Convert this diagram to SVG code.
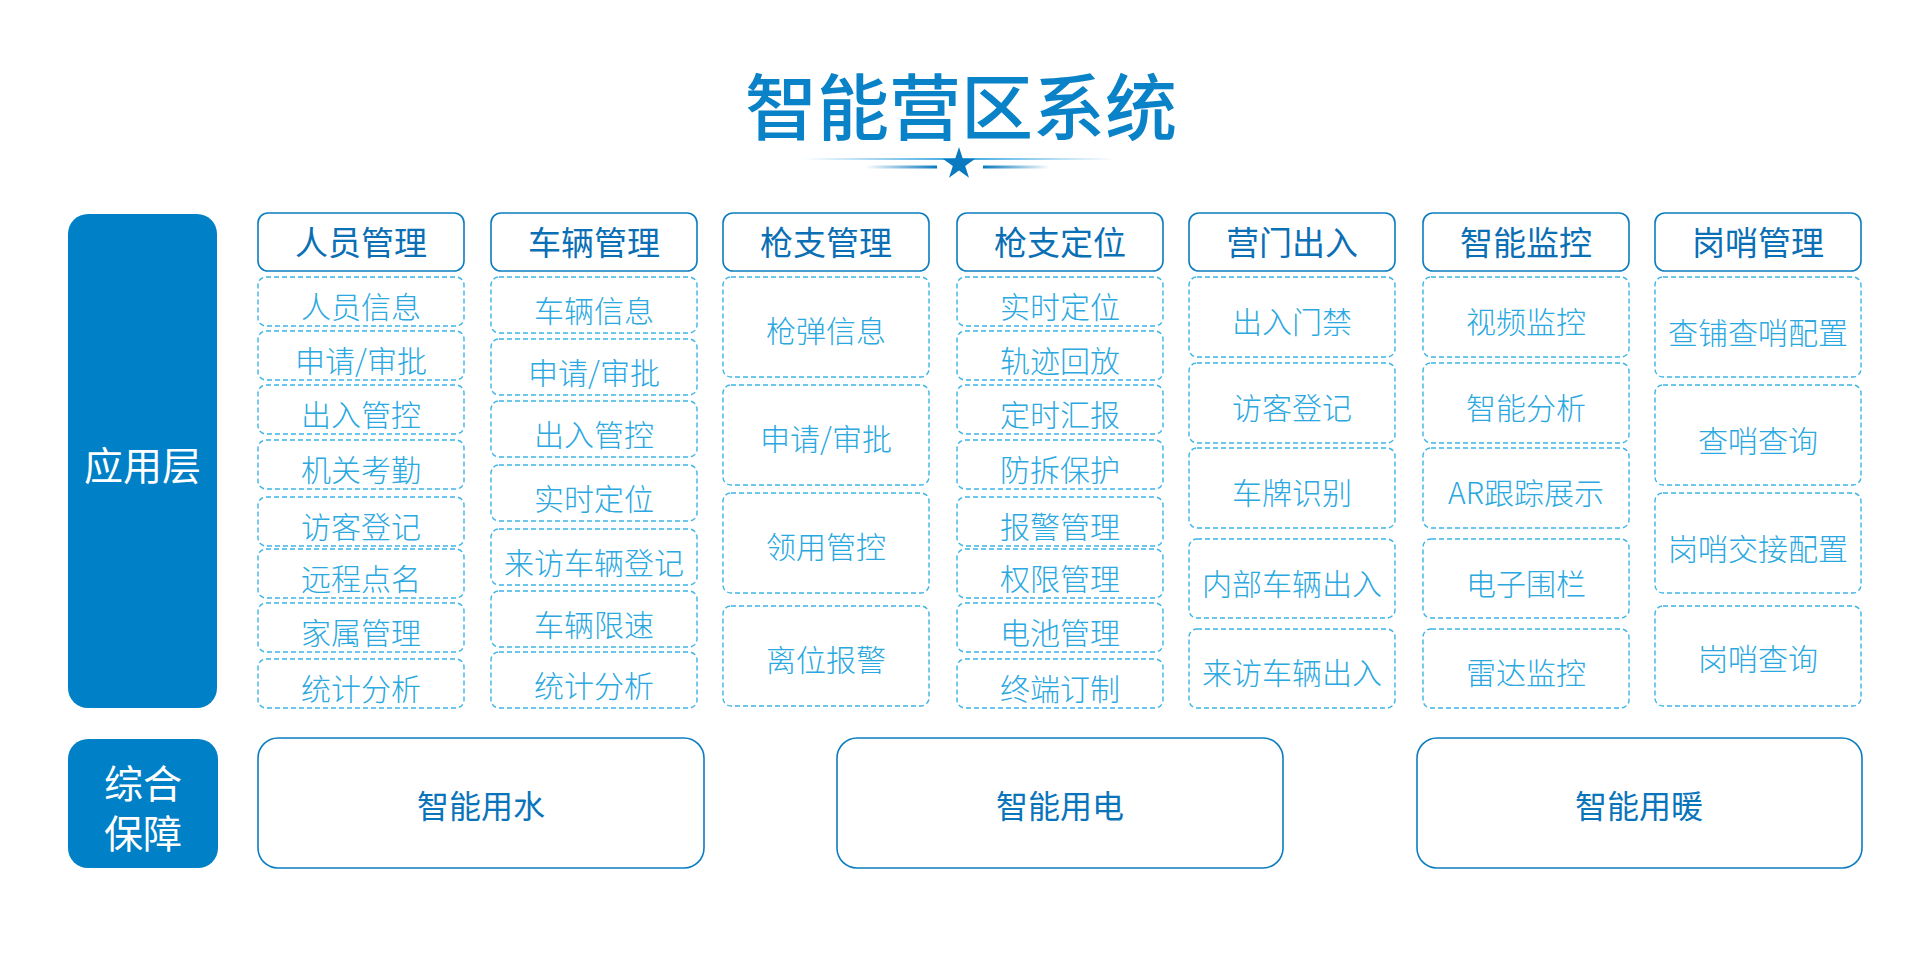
<svg xmlns="http://www.w3.org/2000/svg" width="1920" height="960" viewBox="0 0 1920 960">
<defs>
<style>
text{font-family:"Noto Sans CJK SC","Noto Sans",sans-serif;text-anchor:middle;dominant-baseline:central}
.title{font-size:72px;fill:#0a82c8;font-weight:500}
.layer{fill:#0080c6}
.layert{font-size:39px;fill:#ffffff}
.hdr{fill:#ffffff;stroke:#0b7dc1;stroke-width:1.6}
.hdrt{font-size:33px;fill:#0a6fb5;font-weight:400}
.sub{fill:#ffffff;stroke:#3cb4e6;stroke-width:1.4;stroke-dasharray:5 3}
.subt{font-size:30px;fill:#2aa8df;font-weight:300}
.base{fill:#ffffff;stroke:#0b7dc1;stroke-width:1.6}
.baset{font-size:32px;fill:#0a74bb;font-weight:400}
</style>
<linearGradient id="gTop" x1="0" y1="0" x2="1" y2="0">
<stop offset="0" stop-color="#3aa6e0" stop-opacity="0"/>
<stop offset="0.5" stop-color="#3aa6e0" stop-opacity="1"/>
<stop offset="1" stop-color="#3aa6e0" stop-opacity="0"/>
</linearGradient>
<linearGradient id="gL" x1="0" y1="0" x2="1" y2="0">
<stop offset="0" stop-color="#0a7ac0" stop-opacity="0"/>
<stop offset="1" stop-color="#0a7ac0" stop-opacity="1"/>
</linearGradient>
<linearGradient id="gR" x1="0" y1="0" x2="1" y2="0">
<stop offset="0" stop-color="#0a7ac0" stop-opacity="1"/>
<stop offset="1" stop-color="#0a7ac0" stop-opacity="0"/>
</linearGradient>
</defs>
<rect width="1920" height="960" fill="#ffffff"/>

<g id="title">
<text class="title" x="961" y="102">智能营区系统</text>
<rect x="803" y="158" width="312" height="2" fill="url(#gTop)"/>
<rect x="865" y="165.5" width="72" height="3" fill="url(#gL)"/>
<rect x="983" y="165.5" width="67" height="3" fill="url(#gR)"/>
<polygon fill="#0a7ac0" points="959,147 962.8,158.8 975.2,158.8 965.2,166.1 969,177.8 959,170.6 949,177.8 952.8,166.1 942.8,158.8 955.2,158.8"/>
</g>

<g id="layer-app">
<rect class="layer" x="68" y="214" width="149" height="494" rx="20"/>
<text class="layert" x="142.5" y="463">应用层</text>
</g>
<g id="layer-support">
<rect class="layer" x="68" y="739" width="150" height="129" rx="20"/>
<text class="layert" x="143" y="781"><tspan x="143" y="781">综合</tspan><tspan x="143" y="831">保障</tspan></text>
</g>

<g id="col-personnel">
<rect class="hdr" x="258" y="213" width="206" height="58" rx="10"/>
<text class="hdrt" x="361" y="241">人员管理</text>
<rect class="sub" x="258" y="277" width="206" height="49" rx="8"/><text class="subt" x="361" y="305">人员信息</text>
<rect class="sub" x="258" y="331" width="206" height="49" rx="8"/><text class="subt" x="361" y="359">申请/审批</text>
<rect class="sub" x="258" y="385" width="206" height="49" rx="8"/><text class="subt" x="361" y="413">出入管控</text>
<rect class="sub" x="258" y="440" width="206" height="49" rx="8"/><text class="subt" x="361" y="468">机关考勤</text>
<rect class="sub" x="258" y="497" width="206" height="49" rx="8"/><text class="subt" x="361" y="525">访客登记</text>
<rect class="sub" x="258" y="549" width="206" height="49" rx="8"/><text class="subt" x="361" y="577">远程点名</text>
<rect class="sub" x="258" y="603" width="206" height="49" rx="8"/><text class="subt" x="361" y="631">家属管理</text>
<rect class="sub" x="258" y="659" width="206" height="49" rx="8"/><text class="subt" x="361" y="687">统计分析</text>
</g>

<g id="col-vehicle">
<rect class="hdr" x="491" y="213" width="206" height="58" rx="10"/>
<text class="hdrt" x="594" y="241">车辆管理</text>
<rect class="sub" x="491" y="277" width="206" height="56" rx="8"/><text class="subt" x="594" y="309">车辆信息</text>
<rect class="sub" x="491" y="339" width="206" height="56" rx="8"/><text class="subt" x="594" y="371">申请/审批</text>
<rect class="sub" x="491" y="401" width="206" height="56" rx="8"/><text class="subt" x="594" y="433">出入管控</text>
<rect class="sub" x="491" y="465" width="206" height="56" rx="8"/><text class="subt" x="594" y="497">实时定位</text>
<rect class="sub" x="491" y="529" width="206" height="56" rx="8"/><text class="subt" x="594" y="561">来访车辆登记</text>
<rect class="sub" x="491" y="591" width="206" height="56" rx="8"/><text class="subt" x="594" y="623">车辆限速</text>
<rect class="sub" x="491" y="652" width="206" height="56" rx="8"/><text class="subt" x="594" y="684">统计分析</text>
</g>

<g id="col-gun">
<rect class="hdr" x="723" y="213" width="206" height="58" rx="10"/>
<text class="hdrt" x="826" y="241">枪支管理</text>
<rect class="sub" x="723" y="277" width="206" height="100" rx="8"/><text class="subt" x="826" y="329">枪弹信息</text>
<rect class="sub" x="723" y="385" width="206" height="100" rx="8"/><text class="subt" x="826" y="437">申请/审批</text>
<rect class="sub" x="723" y="493" width="206" height="100" rx="8"/><text class="subt" x="826" y="545">领用管控</text>
<rect class="sub" x="723" y="606" width="206" height="100" rx="8"/><text class="subt" x="826" y="658">离位报警</text>
</g>

<g id="col-gunloc">
<rect class="hdr" x="957" y="213" width="206" height="58" rx="10"/>
<text class="hdrt" x="1060" y="241">枪支定位</text>
<rect class="sub" x="957" y="277" width="206" height="49" rx="8"/><text class="subt" x="1060" y="305">实时定位</text>
<rect class="sub" x="957" y="331" width="206" height="49" rx="8"/><text class="subt" x="1060" y="359">轨迹回放</text>
<rect class="sub" x="957" y="385" width="206" height="49" rx="8"/><text class="subt" x="1060" y="413">定时汇报</text>
<rect class="sub" x="957" y="440" width="206" height="49" rx="8"/><text class="subt" x="1060" y="468">防拆保护</text>
<rect class="sub" x="957" y="497" width="206" height="49" rx="8"/><text class="subt" x="1060" y="525">报警管理</text>
<rect class="sub" x="957" y="549" width="206" height="49" rx="8"/><text class="subt" x="1060" y="577">权限管理</text>
<rect class="sub" x="957" y="603" width="206" height="49" rx="8"/><text class="subt" x="1060" y="631">电池管理</text>
<rect class="sub" x="957" y="659" width="206" height="49" rx="8"/><text class="subt" x="1060" y="687">终端订制</text>
</g>

<g id="col-gate">
<rect class="hdr" x="1189" y="213" width="206" height="58" rx="10"/>
<text class="hdrt" x="1292" y="241">营门出入</text>
<rect class="sub" x="1189" y="277" width="206" height="80" rx="8"/><text class="subt" x="1292" y="320">出入门禁</text>
<rect class="sub" x="1189" y="363" width="206" height="80" rx="8"/><text class="subt" x="1292" y="406">访客登记</text>
<rect class="sub" x="1189" y="448" width="206" height="80" rx="8"/><text class="subt" x="1292" y="491">车牌识别</text>
<rect class="sub" x="1189" y="539" width="206" height="79" rx="8"/><text class="subt" x="1292" y="582">内部车辆出入</text>
<rect class="sub" x="1189" y="629" width="206" height="79" rx="8"/><text class="subt" x="1292" y="671">来访车辆出入</text>
</g>

<g id="col-monitor">
<rect class="hdr" x="1423" y="213" width="206" height="58" rx="10"/>
<text class="hdrt" x="1526" y="241">智能监控</text>
<rect class="sub" x="1423" y="277" width="206" height="80" rx="8"/><text class="subt" x="1526" y="320">视频监控</text>
<rect class="sub" x="1423" y="363" width="206" height="80" rx="8"/><text class="subt" x="1526" y="406">智能分析</text>
<rect class="sub" x="1423" y="448" width="206" height="80" rx="8"/><text class="subt" x="1526" y="491">AR跟踪展示</text>
<rect class="sub" x="1423" y="539" width="206" height="79" rx="8"/><text class="subt" x="1526" y="582">电子围栏</text>
<rect class="sub" x="1423" y="629" width="206" height="79" rx="8"/><text class="subt" x="1526" y="671">雷达监控</text>
</g>

<g id="col-sentry">
<rect class="hdr" x="1655" y="213" width="206" height="58" rx="10"/>
<text class="hdrt" x="1758" y="241">岗哨管理</text>
<rect class="sub" x="1655" y="277" width="206" height="100" rx="8"/><text class="subt" x="1758" y="331">查铺查哨配置</text>
<rect class="sub" x="1655" y="385" width="206" height="100" rx="8"/><text class="subt" x="1758" y="439">查哨查询</text>
<rect class="sub" x="1655" y="493" width="206" height="100" rx="8"/><text class="subt" x="1758" y="547">岗哨交接配置</text>
<rect class="sub" x="1655" y="606" width="206" height="100" rx="8"/><text class="subt" x="1758" y="657">岗哨查询</text>
</g>

<g id="water">
<rect class="base" x="258" y="738" width="446" height="130" rx="20"/>
<text class="baset" x="481" y="804">智能用水</text>
</g>
<g id="power">
<rect class="base" x="837" y="738" width="446" height="130" rx="20"/>
<text class="baset" x="1060" y="804">智能用电</text>
</g>
<g id="heating">
<rect class="base" x="1417" y="738" width="445" height="130" rx="20"/>
<text class="baset" x="1639" y="804">智能用暖</text>
</g>
<g id="connectors"></g>
</svg>
